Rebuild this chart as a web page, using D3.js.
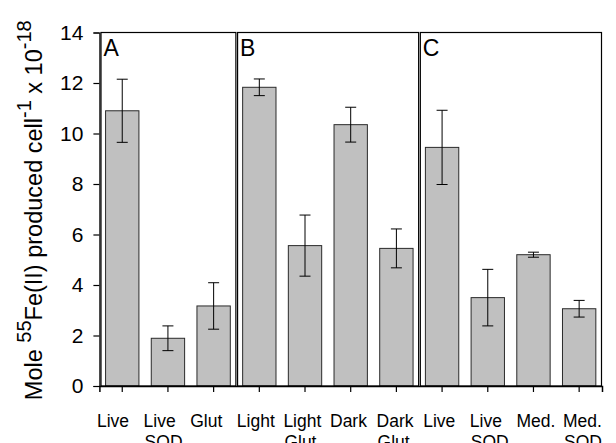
<!DOCTYPE html>
<html>
<head>
<meta charset="utf-8">
<script src="https://cdn.jsdelivr.net/npm/d3@7/dist/d3.min.js"></script>
<style>
  html, body { margin: 0; padding: 0; background: #fff; }
  svg { display: block; font-family: "Liberation Sans", Arial, sans-serif; }
</style>
</head>
<body>
<svg id="chart" width="616" height="443"></svg>
<script>
// ---- data ----
const labelLine1 = ["Live", "Live", "Glut", "Light", "Light", "Dark", "Dark", "Live", "Live", "Med.", "Med."];
const labelLine2 = ["", "SOD", "", "", "Glut", "", "Glut", "", "SOD", "", "SOD"];
const panelNames = ["A", "B", "C"];
const panelSizes = [3, 4, 4];
const values = [10.90, 1.89, 3.17, 11.83, 5.56, 10.35, 5.45, 9.45, 3.50, 5.20, 3.06];
const errors = [1.25, 0.49, 0.92, 0.33, 1.21, 0.69, 0.77, 1.47, 1.12, 0.10, 0.33];
const yTicks = [0, 2, 4, 6, 8, 10, 12, 14];

(function () {
// ---- layout ----
const svg = d3.select("#chart");
const pL = 99.4, pR = 602, pT = 32.5, pB = 386;
const idx = d3.range(values.length);

const x = d3.scaleBand().domain(idx).range([pL, pR]).paddingInner(0.27).paddingOuter(0.135);
const y = d3.scaleLinear().domain([0, 14]).range([pB, pT]);
const xl = d3.scalePoint().domain(idx).range([97, 563]);

const step = x.step();
const halfGap = x.paddingInner() * step / 2;

// panel frames
let start = 0;
const panelBounds = panelSizes.map((n, p) => {
  const first = start, last = start + n - 1;
  start += n;
  const x0 = p === 0 ? pL : x(first) - halfGap;
  const x1 = p === panelSizes.length - 1 ? pR : x(last) + x.bandwidth() + halfGap;
  return { name: panelNames[p], x0, x1 };
});

// bars
svg.append("g").selectAll("rect").data(idx).join("rect")
  .attr("x", i => x(i))
  .attr("y", i => y(values[i]))
  .attr("width", x.bandwidth())
  .attr("height", i => y(0) - y(values[i]))
  .attr("fill", "#c0c0c0")
  .attr("stroke", "#2a2a2a")
  .attr("stroke-width", 1);

// error bars
const eg = svg.append("g").attr("stroke", "#000").attr("stroke-width", 1);
idx.forEach(i => {
  const cx = x(i) + x.bandwidth() / 2;
  const hi = y(values[i] + errors[i]), lo = y(values[i] - errors[i]);
  eg.append("line").attr("x1", cx).attr("x2", cx).attr("y1", hi).attr("y2", lo);
  eg.append("line").attr("x1", cx - 5.5).attr("x2", cx + 5.5).attr("y1", hi).attr("y2", hi);
  eg.append("line").attr("x1", cx - 5.5).attr("x2", cx + 5.5).attr("y1", lo).attr("y2", lo);
});

// panel frames (each panel is its own box, slightly separated)
const fg = svg.append("g").attr("fill", "none").attr("stroke", "#000").attr("stroke-width", 1.2);
panelBounds.forEach((b, p) => {
  const a = p === 0 ? b.x0 + 1.6 : b.x0 + 1.1;
  const c = p === panelBounds.length - 1 ? b.x1 - 0.5 : b.x1 - 0.6;
  fg.append("rect").attr("x", a).attr("y", pT).attr("width", c - a).attr("height", pB - pT);
  svg.append("text").attr("x", a + 2.5).attr("y", pT + 23)
    .attr("font-size", 23).attr("fill", "#000").text(b.name);
});

// y axis
const yAxis = svg.append("g").attr("transform", `translate(${pL},0)`)
  .call(d3.axisLeft(y).tickValues(yTicks).tickSize(6).tickPadding(10).tickFormat(d3.format("d")));
yAxis.select(".domain").attr("stroke", "#000").attr("stroke-width", 1.2);
yAxis.selectAll(".tick line").attr("stroke", "#000").attr("stroke-width", 1.2);
yAxis.selectAll(".tick text").attr("font-size", 21).attr("font-family", "Liberation Sans, Arial, sans-serif").attr("fill", "#000");

// x axis
const xAxis = svg.append("g").attr("transform", `translate(0,${pB})`)
  .call(d3.axisBottom(x).tickSize(6).tickFormat(""));
xAxis.select(".domain").attr("stroke", "#000").attr("stroke-width", 1.5);
xAxis.selectAll(".tick line").attr("stroke", "#000").attr("stroke-width", 1.2);

// x labels (two lines, left-aligned)
const lg = svg.append("g").attr("font-size", 17.5).attr("fill", "#000");
idx.forEach(i => {
  const t = lg.append("text").attr("x", xl(i)).attr("y", 427);
  t.append("tspan").attr("x", xl(i)).text(labelLine1[i]);
  if (labelLine2[i]) t.append("tspan").attr("x", xl(i) + 1).attr("dy", 21).text(labelLine2[i]);
});

// y title
const title = svg.append("text")
  .attr("transform", `translate(42,${(pT + pB) / 2 + 1}) rotate(-90)`)
  .attr("text-anchor", "middle").attr("font-size", 23.5).attr("fill", "#000");
title.append("tspan").text("Mole ");
title.append("tspan").attr("font-size", 20).attr("dy", -11).text("55");
title.append("tspan").attr("dy", 11).text("Fe(II) produced cell");
title.append("tspan").attr("font-size", 20).attr("dy", -11).text("-1");
title.append("tspan").attr("dy", 11).text(" x 10");
title.append("tspan").attr("font-size", 20).attr("dy", -11).text("-18");
})();
</script>
</body>
</html>
